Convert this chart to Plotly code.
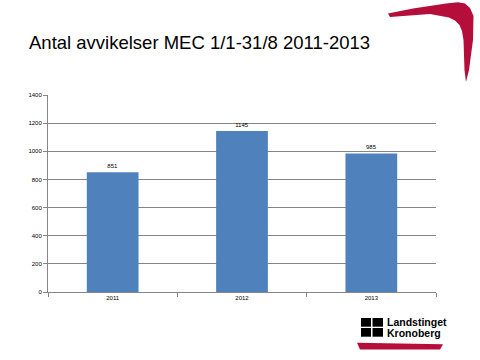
import plotly.graph_objects as go

categories = ["2011", "2012", "2013"]
values = [851, 1145, 985]
y_ticks = [0, 200, 400, 600, 800, 1000, 1200, 1400]

W, H = 480, 360
L, R, T, B = 48, 436, 95, 292  # plot area in pixels

def px(x):
    return (x - L) / (R - L)

def py(y):
    return (B - y) / (B - T)

def path(points):
    return "M " + " L ".join(f"{px(x):.5f},{py(y):.5f}" for x, y in points) + " Z"

fig = go.Figure(go.Bar(
    x=categories, y=values,
    marker=dict(color="#4F81BD", line=dict(width=0)),
    text=[str(v) for v in values], textposition="outside",
    textfont=dict(size=6, color="#000000", family="Liberation Sans, Arial"),
    cliponaxis=False,
))

red = "#B50E3A"
shapes = []
# boomerang top right
boomerang = [(388, 13.5), (413, 8.5), (446, 3.5), (458, 2.2), (465, 3.5), (470, 8), (473.5, 16),
             (473, 40), (469, 70), (466, 82), (464.5, 70), (463.5, 40), (462, 31), (459.5, 25),
             (455, 20.5), (449, 17.5), (430, 14), (390, 17)]
shapes.append(dict(type="path", xref="paper", yref="paper", path=path(boomerang),
                   fillcolor=red, line=dict(width=0), layer="above"))
# bottom red bar
bar = [(357, 342.7), (443, 344.3), (440, 349.5), (360, 349.5)]
shapes.append(dict(type="path", xref="paper", yref="paper", path=path(bar),
                   fillcolor=red, line=dict(width=0), layer="above"))
# logo squares
for (x0, x1) in [(361, 371), (372.5, 383)]:
    for (y0, y1) in [(318, 326.7), (328, 336.7)]:
        shapes.append(dict(type="rect", xref="paper", yref="paper",
                           x0=px(x0), x1=px(x1), y0=py(y1), y1=py(y0),
                           fillcolor="#000000", line=dict(width=0), layer="above"))

annotations = [
    dict(text="<b>Landstinget</b>", xref="paper", yref="paper", x=px(384.5), y=py(321.5),
         xanchor="left", yanchor="middle", showarrow=False,
         font=dict(size=10.5, color="#000000", family="Liberation Sans, Arial")),
    dict(text="<b>Kronoberg</b>", xref="paper", yref="paper", x=px(384.5), y=py(332.5),
         xanchor="left", yanchor="middle", showarrow=False,
         font=dict(size=10.5, color="#000000", family="Liberation Sans, Arial")),
]

fig.update_layout(
    width=W, height=H,
    margin=dict(l=L, r=W - R, t=T, b=H - B, pad=0),
    paper_bgcolor="#FFFFFF", plot_bgcolor="#FFFFFF",
    showlegend=False,
    bargap=0.6,
    title=dict(text="Antal avvikelser MEC 1/1-31/8 2011-2013",
               x=29 / W, xanchor="left", xref="container",
               y=1 - 43 / H, yanchor="middle", yref="container",
               font=dict(size=18.5, color="#000000", family="Liberation Sans, Arial")),
    xaxis=dict(type="category", showgrid=False, showline=True, linecolor="#868686",
               linewidth=1, ticks="outside", tickson="boundaries", ticklen=4,
               tickcolor="#868686", tickfont=dict(size=6, color="#000000", family="Liberation Sans, Arial")),
    yaxis=dict(range=[0, 1400], tickvals=y_ticks, showgrid=True, gridcolor="#868686",
               gridwidth=1, showline=True, linecolor="#868686", linewidth=1,
               ticks="outside", ticklen=4, tickcolor="#868686", zeroline=False,
               tickfont=dict(size=6, color="#000000", family="Liberation Sans, Arial")),
    shapes=shapes,
    annotations=annotations,
    font=dict(family="Liberation Sans, Arial"),
)

fig.write_html("out.html")
